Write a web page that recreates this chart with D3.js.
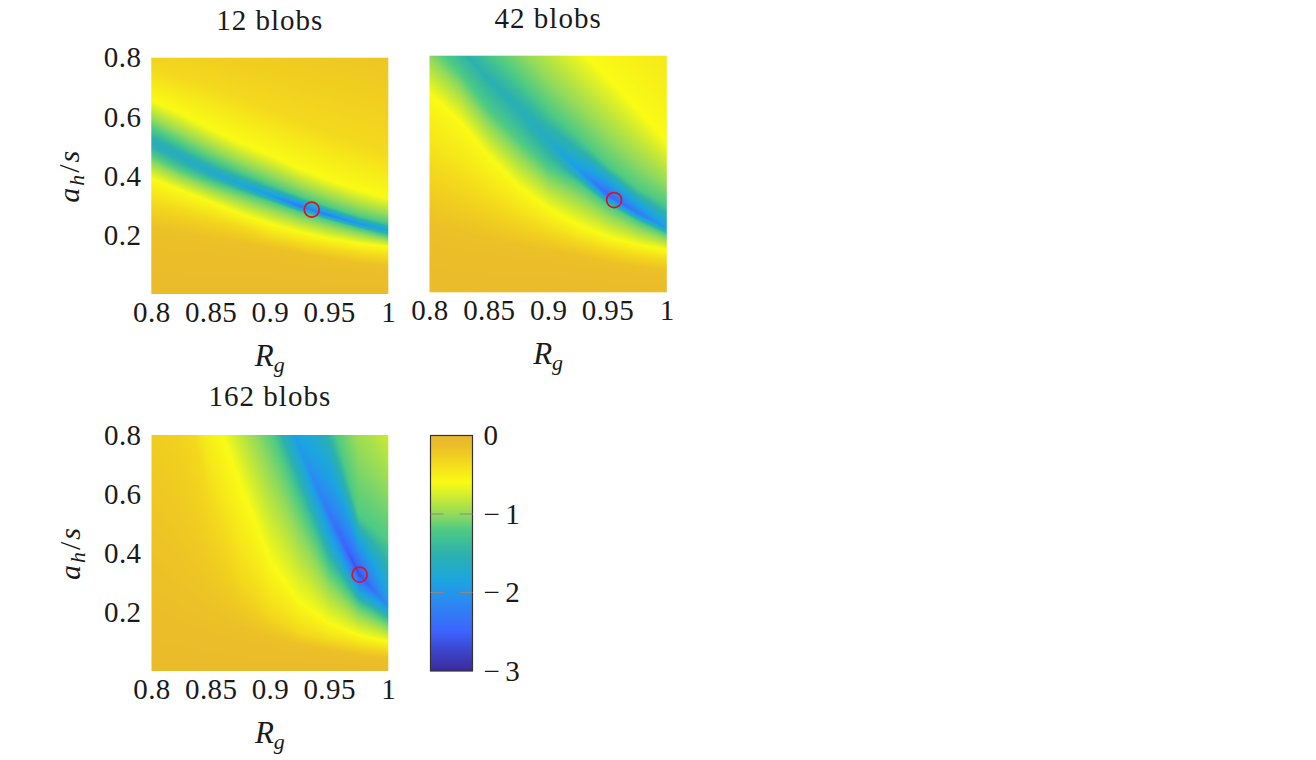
<!DOCTYPE html>
<html><head><meta charset="utf-8">
<script src="https://cdn.jsdelivr.net/npm/d3@7"></script>
<style>
html,body{margin:0;padding:0;background:#fff;}
svg{display:block;}
text{font-family:"Liberation Serif",serif;fill:#1a1a1a;}
</style></head><body>
<svg id="chart" width="1316" height="760"></svg>
<script>
// Rg columns at which each panel's level curves were read
const rgColumns = [0.8,0.825,0.85,0.875,0.9,0.925,0.95,0.975,1.0];
const xTicks = [0.8,0.85,0.9,0.95,1];
const xTickLabels = ["0.8","0.85","0.9","0.95","1"];
const yTicks = [0.2,0.4,0.6,0.8];
const colorTicks = [0,-1,-2,-3];

// colour scale stops
const colorValues = [0,-0.15,-0.3,-0.45,-0.6,-0.8,-1.0,-1.2,-1.5,-1.85,-2.1,-2.5,-2.75,-3];
const colorHexes = ["#e8b62f","#ecc027","#f2d31e","#f6e81a","#f9fb15","#c8ea35","#93db5b","#4ecb84","#2db2ac","#1ca5e0","#2a8cf0","#3d63ff","#3a45c8","#3a2a9c"];

// level of each curve, from low a_h/s to high a_h/s
const levelOrange=-0.15, levelGold=-0.35, levelYellow=-0.6, levelGreen=-1.2;
const bottomValue=-0.07;
// shape of the valley between the green level and its floor: [share of distance, share of depth]
const valleyShape=[[0.5,0.5],[0.85,0.8]];

// Panel 12 blobs: a_h/s position of each level at each Rg column
const a12Orange=[.222,.205,.188,.172,.155,.138,.121,.104,.093];
const a12LowGold=[.307,.284,.256,.228,.194,.172,.155,.138,.129];
const a12LowYellow=[.392,.352,.313,.273,.239,.211,.188,.172,.162];
const a12LowGreen=[.471,.420,.380,.346,.313,.279,.250,.222,.196];
const a12Valley=[.516,.465,.414,.372,.335,.298,.267,.239,.217];
const a12UpGreen=[.564,.510,.459,.414,.372,.332,.296,.264,.241];
const a12UpYellow=[.657,.612,.561,.512,.471,.425,.386,.352,.324];
const a12UpGold=[.758,.730,.702,.662,.623,.583,.544,.510,.476];
const v12Valley=[-1.65,-1.7,-1.75,-1.85,-2.0,-2.35,-2.25,-2.05,-1.85];
const v12Top=[-.3,-.29,-.27,-.25,-.24,-.23,-.22,-.21,-.2];

// Panel 42 blobs
const a42Orange=[.222,.199,.177,.154,.137,.121,.098,.081,.070];
const a42LowGold=[.425,.368,.301,.250,.205,.171,.143,.123,.109];
const a42LowYellow=[.673,.583,.459,.357,.284,.228,.188,.160,.143];
const a42LowGreen=[.853,.746,.616,.515,.419,.368,.295,.239,.194];
const a42Valley=[.966,.830,.723,.622,.515,.414,.329,.267,.216];
const a42UpGreen=[1.045,.932,.819,.723,.616,.526,.430,.352,.295];
const a42UpYellow=[1.360,1.253,1.146,1.039,.932,.825,.723,.616,.504];
const a42UpGold=[1.856,1.749,1.642,1.535,1.428,1.321,1.219,1.112,.999];
const v42Valley=[-1.4,-1.5,-1.55,-1.6,-1.7,-2.0,-2.5,-2.3,-1.95];
const v42Top=[-.3,-.3,-.3,-.3,-.3,-.3,-.3,-.3,-.3];

// Panel 162 blobs
const a162Orange=[.308,.241,.184,.145,.111,.088,.071,.054,.043];
const a162LowGold=[1.303,.986,.568,.320,.195,.133,.105,.085,.071];
const a162LowYellow=[1.518,1.212,.907,.636,.376,.235,.162,.122,.099];
const a162LowGreen=[1.924,1.642,1.359,1.077,.828,.568,.346,.224,.167];
const a162Valley=[2.094,1.811,1.529,1.246,.998,.755,.534,.329,.218];
const a162UpGreen=[2.478,2.196,1.913,1.631,1.382,1.133,.885,.529,.444];
const a162UpYellow=[3.167,2.885,2.602,2.320,2.037,1.755,1.472,1.190,.964];
const a162UpGold=[3.467,3.185,2.902,2.620,2.337,2.055,1.772,1.490,1.264];
const v162Valley=[-1.6,-1.6,-1.7,-1.8,-1.85,-1.95,-2.3,-2.7,-2.05];
const v162Top=[-.3,-.3,-.3,-.3,-.3,-.3,-.3,-.3,-.3];

// Minimum marked by the red circle in each panel
const minima12=[0.9354,0.2857], minima42=[0.9556,0.312], minima162=[0.9758,0.3264];

const panels=[
 {title:"12 blobs",box:[151.3,57.7,388.3,294],curves:[a12Orange,a12LowGold,a12LowYellow,a12LowGreen,a12Valley,a12UpGreen,a12UpYellow,a12UpGold],valley:v12Valley,top:v12Top,min:minima12,yAxis:true,titleY:30},
 {title:"42 blobs",box:[429.5,55.7,666.8,292.3],curves:[a42Orange,a42LowGold,a42LowYellow,a42LowGreen,a42Valley,a42UpGreen,a42UpYellow,a42UpGold],valley:v42Valley,top:v42Top,min:minima42,yAxis:false,titleY:28},
 {title:"162 blobs",box:[151.5,435,388.3,671],curves:[a162Orange,a162LowGold,a162LowYellow,a162LowGreen,a162Valley,a162UpGreen,a162UpYellow,a162UpGold],valley:v162Valley,top:v162Top,min:minima162,yAxis:true,titleY:406}
];

const svg=d3.select("#chart");
const color=d3.scaleLinear().domain(colorValues).range(colorHexes).clamp(true);
const FS=29;

function renderField(p,x,y,w,h){
  const cv=document.createElement("canvas");cv.width=w;cv.height=h;
  const ctx=cv.getContext("2d");
  const byRg=arr=>d3.scaleLinear().domain(rgColumns).range(arr);
  const curves=p.curves.map(byRg), valley=byRg(p.valley), top=byRg(p.top);
  const [x0,y0]=[x.range()[0],y.range()[1]];
  for(let i=0;i<w;i++){
    const rg=x.invert(x0+i+.5);
    const c=curves.map(f=>f(rg));
    const vf=valley(rg);
    const side=(edge)=>valleyShape.map(([sd,sv])=>[edge+(c[4]-edge)*sd, levelGreen+(vf-levelGreen)*sv]);
    const low=side(c[3]), up=side(c[5]).reverse();
    const knots=[[0,bottomValue],[c[0],levelOrange],[c[1],levelGold],[c[2],levelYellow],[c[3],levelGreen],
      ...low,[c[4],vf],...up,[c[5],levelGreen],[c[6],levelYellow],[c[7],levelGold]];
    if(c[7]<0.8)knots.push([0.8,top(rg)]);
    const prof=d3.scaleLinear().domain(knots.map(k=>k[0])).range(knots.map(k=>k[1])).clamp(true);
    for(let j=0;j<h;j++){
      ctx.fillStyle=color(prof(y.invert(y0+j+.5)));
      ctx.fillRect(i,j,1,1);
    }
  }
  return cv.toDataURL();
}

panels.forEach(p=>{
  const [l,t,r,b]=p.box;
  const x=d3.scaleLinear().domain([0.8,1]).range([l,r]);
  const y=d3.scaleLinear().domain([0,0.8]).range([b,t]);
  const w=Math.round(r-l),h=Math.round(b-t);
  svg.append("image").attr("x",l).attr("y",t).attr("width",r-l).attr("height",b-t)
     .attr("preserveAspectRatio","none").attr("href",renderField(p,x,y,w,h));
  const gx=svg.append("g").attr("transform",`translate(0,${b})`)
     .call(d3.axisBottom(x).tickValues(xTicks).tickSize(0).tickPadding(7).tickFormat((d,i)=>xTickLabels[i]));
  gx.select(".domain").remove();
  gx.selectAll("text").attr("font-size",FS).attr("font-family","Liberation Serif").attr("letter-spacing",0.4).style("fill","#1a1a1a");
  if(p.yAxis){
    const gy=svg.append("g").attr("transform",`translate(${l},0)`)
       .call(d3.axisLeft(y).tickValues(yTicks).tickSize(0).tickPadding(10).tickFormat(d3.format(".1f")));
    gy.select(".domain").remove();
    gy.selectAll("text").attr("font-size",FS).attr("font-family","Liberation Serif").attr("letter-spacing",0.4).style("fill","#1a1a1a");
    const yl=svg.append("text").attr("transform",`translate(${l-72},${(t+b)/2}) rotate(-90)`).attr("text-anchor","middle").attr("font-size",30).attr("letter-spacing",2);
    yl.append("tspan").attr("font-style","italic").text("a");
    yl.append("tspan").attr("font-style","italic").attr("font-size",22).attr("dy",5).text("h");
    yl.append("tspan").attr("dy",-5).text("/");
    yl.append("tspan").attr("font-style","italic").text("s");
  }
  const xl=svg.append("text").attr("x",(l+r)/2).attr("y",b+72).attr("text-anchor","middle").attr("font-size",31);
  xl.append("tspan").attr("font-style","italic").text("R");
  xl.append("tspan").attr("font-style","italic").attr("font-size",22).attr("dy",6).text("g");
  svg.append("text").attr("x",(l+r)/2).attr("y",p.titleY).attr("text-anchor","middle").attr("font-size",FS).attr("letter-spacing",1).text(p.title);
  svg.append("circle").attr("cx",x(p.min[0])).attr("cy",y(p.min[1])).attr("r",7.5).attr("fill","none").attr("stroke","#d8142c").attr("stroke-width",1.7);
});

// colour bar
const cbY=d3.scaleLinear().domain([0,-3]).range([435.5,671]);
const grad=svg.append("defs").append("linearGradient").attr("id","cb").attr("x1",0).attr("x2",0).attr("y1",0).attr("y2",1);
grad.selectAll("stop").data(colorValues).join("stop")
  .attr("offset",d=>-d/3).attr("stop-color",d=>color(d));
svg.append("rect").attr("x",430.5).attr("y",435.5).attr("width",42).attr("height",235.5)
   .attr("fill","url(#cb)").attr("stroke","#333").attr("stroke-width",1.2);
svg.selectAll(".cbdash").data([-1,-2].flatMap(v=>[[v,430.5,443.5],[v,459.5,472.5]])).join("line")
   .attr("x1",d=>d[1]).attr("x2",d=>d[2]).attr("y1",d=>cbY(d[0])).attr("y2",d=>cbY(d[0]))
   .attr("stroke","#888").attr("stroke-width",1);
const gc=svg.append("g").attr("transform","translate(472.5,0)")
  .call(d3.axisRight(cbY).tickValues(colorTicks).tickSize(0).tickPadding(11).tickFormat(d=>d===0?"0":"\u2212\u200a"+(-d)));
gc.select(".domain").remove();
gc.selectAll("text").attr("font-size",FS).attr("font-family","Liberation Serif").attr("letter-spacing",1.5).style("fill","#1a1a1a");
</script>
</body></html>
